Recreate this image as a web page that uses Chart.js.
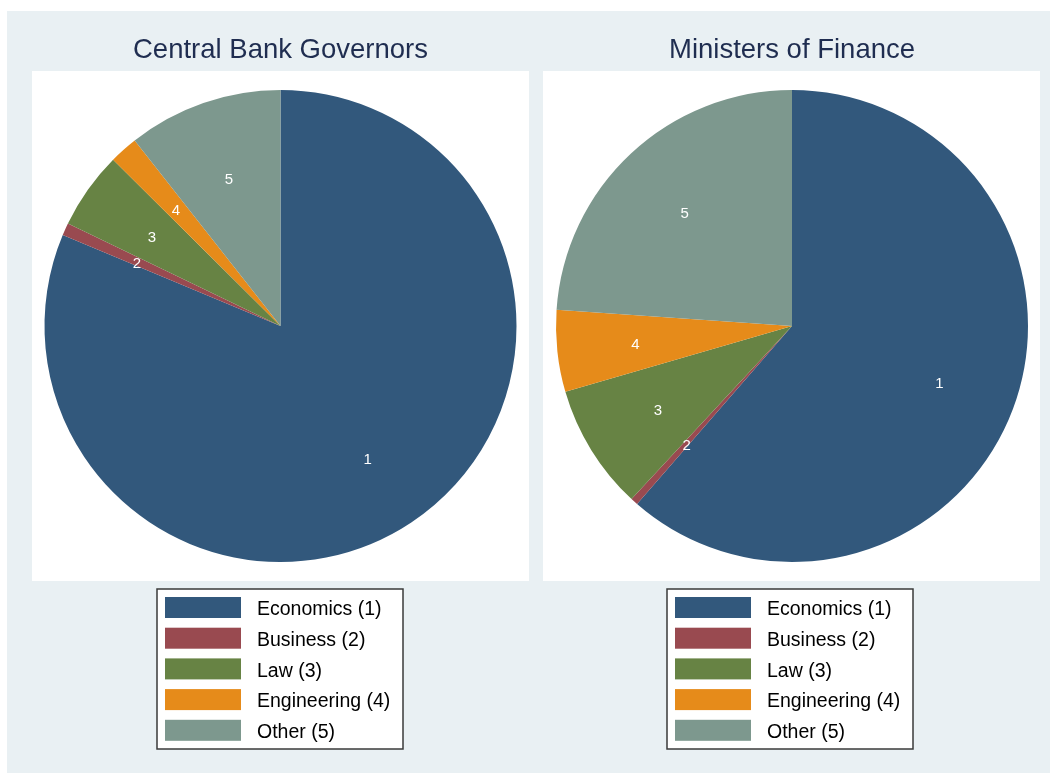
<!DOCTYPE html>
<html>
<head>
<meta charset="utf-8">
<script src="https://cdn.jsdelivr.net/npm/chart.js@4"></script>
<style>
    html, body { margin: 0; padding: 0; background: #ffffff; }
    #frame {
        position: absolute; left: 7px; top: 11px; width: 1043px; height: 762px;
        background: #e9f0f3;
    }
    .panel { position: absolute; top: 0; height: 762px; }
    #left { left: 0; width: 529px; }
    #right { left: 529px; width: 514px; }
</style>
</head>
<body>
<div id="frame">
    <div class="panel" id="left"><canvas id="governorsChart" width="529" height="762"></canvas></div>
    <div class="panel" id="right"><canvas id="ministersChart" width="514" height="762"></canvas></div>
</div>
<script>
const fields = ['Economics (1)', 'Business (2)', 'Law (3)', 'Engineering (4)', 'Other (5)'];
const sliceNumbers = ['1', '2', '3', '4', '5'];
const governorsShare = [81.3, 0.85, 5.3, 1.95, 10.6];
const ministersShare = [61.4, 0.5, 8.6, 5.6, 23.9];
const fieldColors = ['#32587c', '#994a50', '#678344', '#e68b1a', '#7d988e'];

// white plot region behind each pie, and the boxed legend underneath
const panelDecor = {
    id: 'panelDecor',
    beforeDraw(chart, args, opts) {
        const c = chart.ctx;
        c.save();
        c.fillStyle = '#ffffff';
        c.fillRect(opts.plotLeft, 60, opts.plotWidth, 510);
        c.restore();
    },
    afterDraw(chart, args, opts) {
        const c = chart.ctx;
        const ds = chart.data.datasets[0];
        const left = opts.legendLeft, top = 578;
        c.save();
        c.fillStyle = '#ffffff';
        c.fillRect(left, top, 246, 160);
        c.strokeStyle = '#3a3a3a';
        c.lineWidth = 1.5;
        c.strokeRect(left, top, 246, 160);
        c.font = '19.5px "Liberation Sans", Arial, sans-serif';
        c.textBaseline = 'middle';
        chart.data.labels.forEach((lab, i) => {
            const y = top + 8 + i * 30.7;
            c.fillStyle = ds.backgroundColor[i];
            c.fillRect(left + 8, y, 76, 21);
            c.fillStyle = '#000000';
            c.fillText(lab, left + 100, y + 13);
        });
        c.restore();
    }
};

// slice numbers placed at two thirds of the radius along each slice's bisector
const sliceLabels = {
    id: 'sliceLabels',
    afterDatasetsDraw(chart) {
        const c = chart.ctx;
        const meta = chart.getDatasetMeta(0);
        c.save();
        c.fillStyle = '#ffffff';
        c.font = '15px "Liberation Sans", Arial, sans-serif';
        c.textAlign = 'center';
        c.textBaseline = 'middle';
        meta.data.forEach((arc, i) => {
            const p = arc.getProps(['x', 'y', 'startAngle', 'endAngle', 'outerRadius'], true);
            const mid = (p.startAngle + p.endAngle) / 2;
            const r = p.outerRadius * 0.667;
            c.fillText(sliceNumbers[i], p.x + Math.cos(mid) * r, p.y + Math.sin(mid) * r + 2.5);
        });
        c.restore();
    }
};

function pieOptions(title, pad, plotLeft, legendLeft) {
    return {
        responsive: false,
        animation: false,
        layout: { padding: pad },
        plugins: {
            legend: { display: false },
            tooltip: { enabled: false },
            title: {
                display: true,
                text: title,
                color: '#1f2d50',
                font: { family: '"Liberation Sans", Arial, sans-serif', size: 27.5, weight: 'normal' },
                padding: { top: 22.5, bottom: 23.5 }
            },
            panelDecor: { plotLeft: plotLeft, plotWidth: 497, legendLeft: legendLeft }
        }
    };
}

const ctx1 = document.getElementById('governorsChart').getContext('2d');
const governorsChart = new Chart(ctx1, {
    type: 'pie',
    data: {
        labels: fields,
        datasets: [{
            data: governorsShare,
            backgroundColor: fieldColors,
            borderWidth: 0,
            hoverOffset: 0
        }]
    },
    options: pieOptions('Central Bank Governors', { left: 37.5, right: 19.5, top: 0, bottom: 211 }, 25, 150),
    plugins: [panelDecor, sliceLabels]
});

const ctx2 = document.getElementById('ministersChart').getContext('2d');
const ministersChart = new Chart(ctx2, {
    type: 'pie',
    data: {
        labels: fields,
        datasets: [{
            data: ministersShare,
            backgroundColor: fieldColors,
            borderWidth: 0,
            hoverOffset: 0
        }]
    },
    options: pieOptions('Ministers of Finance', { left: 20, right: 22, top: 0, bottom: 211 }, 7, 131),
    plugins: [panelDecor, sliceLabels]
});
</script>
</body>
</html>
